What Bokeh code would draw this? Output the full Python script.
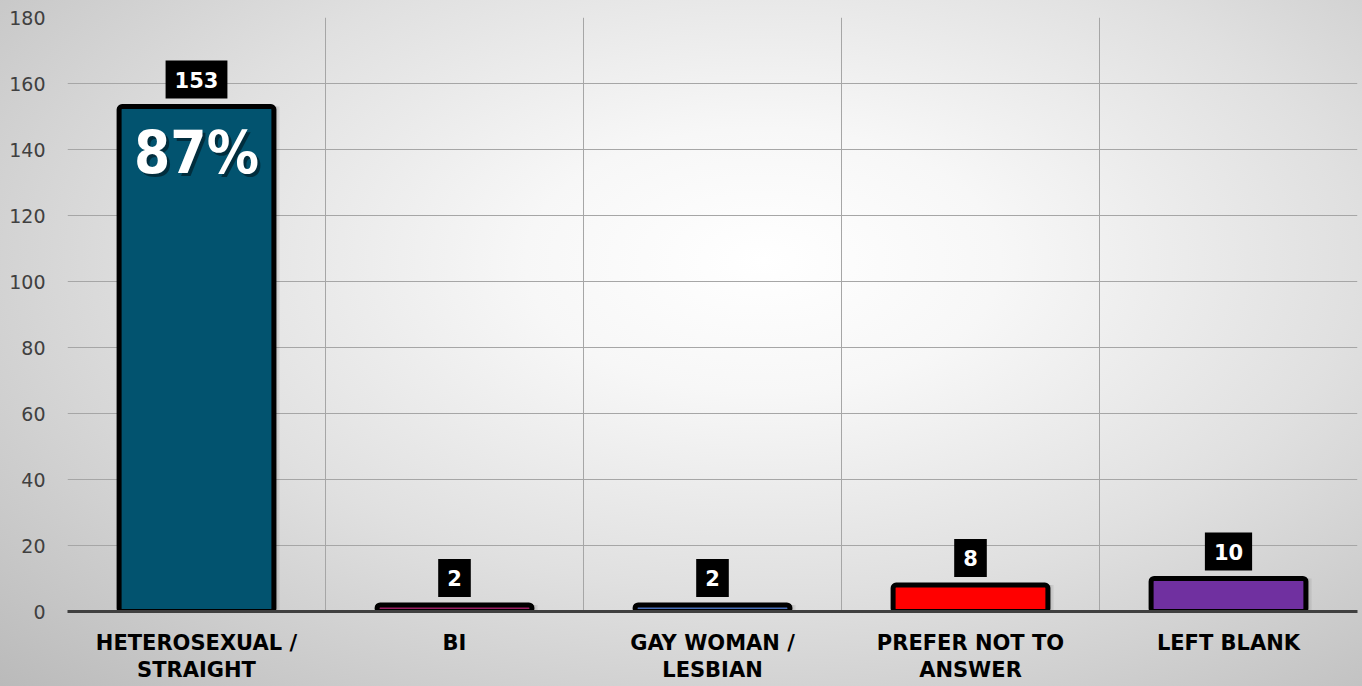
from bokeh.plotting import figure
from bokeh.models import ColumnDataSource, FixedTicker, InlineStyleSheet
from bokeh.transform import dodge
from bokeh.core.properties import value
from bokeh.embed import file_html
from bokeh.resources import INLINE

# Survey responses by sexual orientation
categories = ["HETEROSEXUAL /\nSTRAIGHT", "BI", "GAY WOMAN /\nLESBIAN",
              "PREFER NOT TO\nANSWER", "LEFT BLANK"]
counts = [153, 2, 2, 8, 10]
bar_colors = ["#02536f", "#9b1f63", "#4a6fb8", "#ff0000", "#7030a0"]
y_ticks = [0, 20, 40, 60, 80, 100, 120, 140, 160, 180]

xs = [i + 0.5 for i in range(len(categories))]
total = sum(counts)
share_text = f"{round(100 * counts[0] / total)}%"

src = ColumnDataSource(dict(
    x=xs,
    count=counts,
    color=bar_colors,
    label=[str(c) for c in counts],
))

BOLD_FONT = "DejaVu Sans"
SHARE_FONT = "DejaVu Sans Condensed"

p = figure(width=1362, height=686, x_range=(0, len(categories)), y_range=(0, 180),
           output_backend="svg", toolbar_location=None,
           min_border_left=67, min_border_right=5, min_border_top=17, min_border_bottom=75)

# page background: soft radial gradient, light in the middle, grey at the edges
p.background_fill_color = None
p.border_fill_color = None
p.outline_line_color = None
p.stylesheets = [InlineStyleSheet(css=(
    ":host { background: radial-gradient(ellipse farthest-corner at 56% 38%, "
    "#ffffff 0%, #f7f7f7 22%, #e0e0e0 55%, #bababa 100%); }"
))]

# grid
p.xgrid.ticker = FixedTicker(ticks=list(range(len(categories) + 1)))
p.ygrid.ticker = FixedTicker(ticks=y_ticks)
for g in (p.xgrid, p.ygrid):
    g.grid_line_color = "#a6a6a6"
    g.grid_line_width = 1

# axes
p.xaxis.ticker = FixedTicker(ticks=xs)
p.xaxis.major_label_overrides = {x: c for x, c in zip(xs, categories)}
p.xaxis.axis_line_color = "#404040"
p.xaxis.axis_line_width = 3
p.xaxis.major_tick_line_color = None
p.xaxis.minor_tick_line_color = None
p.xaxis.major_tick_out = 0
p.xaxis.major_label_standoff = 19
p.xaxis.major_label_text_font = BOLD_FONT
p.xaxis.major_label_text_font_style = "bold"
p.xaxis.major_label_text_font_size = "21px"
p.xaxis.major_label_text_color = "#000000"
p.xaxis.major_label_text_line_height = 1.15

p.yaxis.ticker = FixedTicker(ticks=y_ticks)
p.yaxis.axis_line_color = None
p.yaxis.major_tick_line_color = None
p.yaxis.minor_tick_line_color = None
p.yaxis.major_tick_out = 0
p.yaxis.major_label_standoff = 22
p.yaxis.major_label_text_font = "DejaVu Sans"
p.yaxis.major_label_text_font_size = "19px"
p.yaxis.major_label_text_color = "#404040"

# soft drop shadow to the right of each bar
for off, a in [(0.006, 0.10), (0.012, 0.08), (0.018, 0.06), (0.024, 0.04)]:
    p.vbar(x=dodge("x", off, range=p.x_range), top="count", bottom=0, width=0.6,
           source=src, fill_color="#000000", fill_alpha=a, line_color=None)

# bars
p.vbar(x="x", top="count", bottom=0, width=0.6, source=src,
       fill_color="color", line_color="#000000", line_width=5, border_radius=3)

# value labels in black boxes above the bars
p.text(x="x", y="count", text="label", source=src,
       text_color="#ffffff", text_font=value(BOLD_FONT), text_font_style="bold",
       text_font_size="21px", text_align="center", text_baseline="bottom",
       y_offset=-8, background_fill_color="#000000", padding=(9, 11))

# share of the largest group, written inside its bar
share_src = ColumnDataSource(dict(x=[xs[0]], y=[counts[0]], t=[share_text]))
p.text(x="x", y="y", text="t", source=share_src, text_color="#000000", text_alpha=0.45,
       text_font=value(SHARE_FONT), text_font_style="bold", text_font_size="58px",
       text_align="center", text_baseline="top", x_offset=3, y_offset=15)
p.text(x="x", y="y", text="t", source=share_src, text_color="#ffffff",
       text_font=value(SHARE_FONT), text_font_style="bold", text_font_size="58px",
       text_align="center", text_baseline="top", y_offset=12)

open("out.html", "w").write(file_html(p, INLINE))
